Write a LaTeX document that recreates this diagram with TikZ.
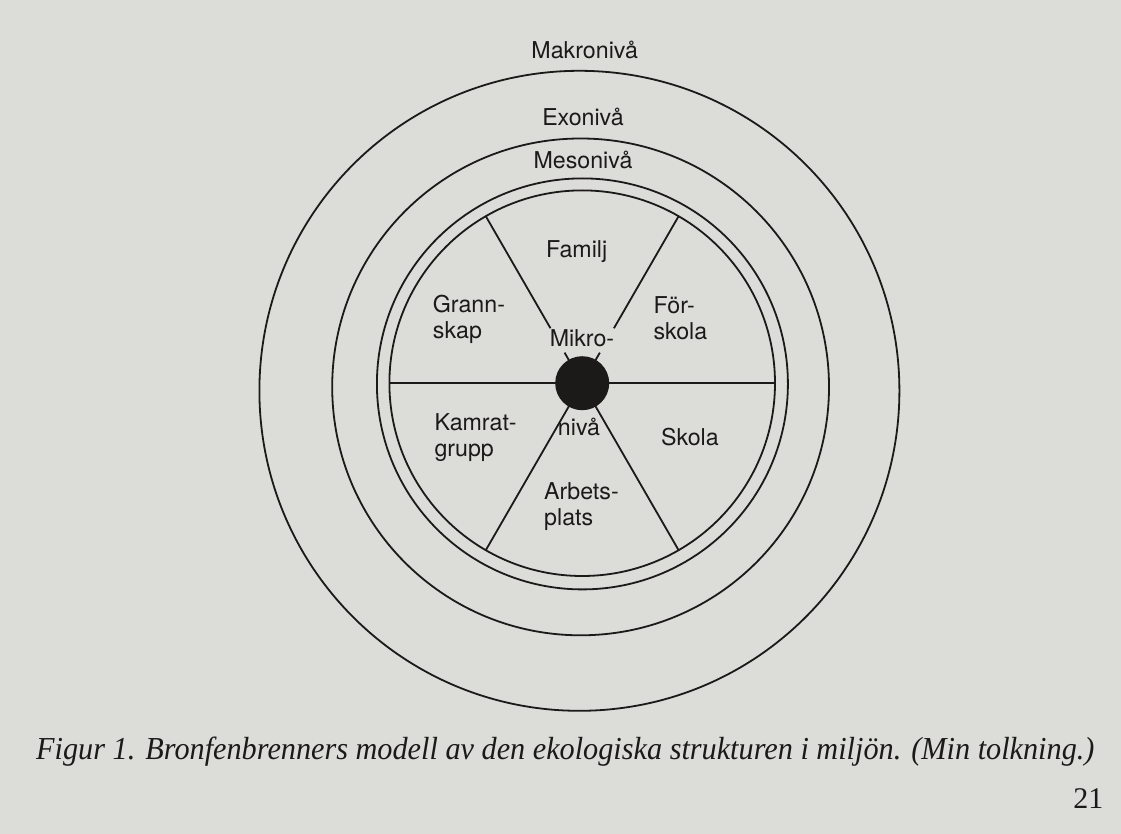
\documentclass[tikz,border=0pt]{standalone}
\usepackage{fontspec}
\setmainfont{TeX Gyre Heros}
\newfontfamily\capfont{Liberation Serif}
\definecolor{paper}{RGB}{220,220,216}
\definecolor{ink}{RGB}{28,25,25}
\begin{document}
\begin{tikzpicture}[x=1pt,y=-1pt,
  lab/.style={font=\fontsize{23.2}{26}\selectfont, text=ink, inner sep=0pt, anchor=base},
  labl/.style={lab, align=left, anchor=base west},
  ring/.style={draw=ink, line width=1.8pt},
  spoke/.style={draw=ink, line width=1.8pt},
  capt/.style={font=\capfont\itshape\fontsize{32}{36}\selectfont, text=ink, inner sep=0pt, anchor=base west},
  pagenum/.style={font=\capfont\fontsize{30}{36}\selectfont, text=ink, inner sep=0pt, anchor=base east}]
\useasboundingbox (0,0) rectangle (1121,834);
\fill[paper] (0,0) rectangle (1121,834);
% centres of the rings
\coordinate (c1) at (579.4,390.8);
\coordinate (c2) at (580.6,386.9);
\coordinate (c3) at (582.4,383.9);
\coordinate (c)  at (582.2,383.2);
% rings
\draw[ring] (c1) circle[radius=320pt];
\draw[ring] (c2) circle[radius=248.4pt];
\draw[ring] (c3) circle[radius=205.5pt];
\draw[ring] (c)  circle[radius=192.8pt];
% spokes (angles in canvas: 60 and 120 point upwards)
\foreach \a in {0,180,240,300}
  \draw[spoke] (c) -- ([shift={(\a:192.8pt)}]c);
\foreach \a in {60,120}{
  \draw[spoke] ([shift={(\a:63.4pt)}]c) -- ([shift={(\a:192.8pt)}]c);
  \draw[spoke] (c) -- ([shift={(\a:35.3pt)}]c);
}
% micro level dot
\fill[ink] (c) circle[radius=27pt];
% level labels
\node[lab] (makro) at (584.7,58.8) {Makronivå};
\node[lab] (exo)   at (583,126) {Exonivå};
\node[lab] (meso)  at (583,169) {Mesonivå};
% sector labels (multi-line nodes: base = baseline of last line)
\node[lab]  (familj) at (576.7,257.3) {Familj};
\node[labl] (grann)  at (432.7,338.5) {Grann-\\skap};
\node[labl] (forsk)  at (653.3,339.3) {För-\\skola};
\node[lab]  (mikro)  at (582,346.7) {Mikro-};
\node[lab]  (niva)   at (579,435) {nivå};
\node[labl] (kamrat) at (434.3,456.7) {Kamrat-\\grupp};
\node[labl] (skola)  at (661,445.7) {Skola};
\node[labl] (arbets) at (544,525) {Arbets-\\plats};
% caption and page number
\node[capt] (caption) at (36,759) {\scalebox{0.945}[1]{Figur 1. Bronfenbrenners modell av den ekologiska strukturen i miljön. (Min tolkning.)}};
\node[pagenum] (page) at (1103.5,808.3) {21};
\end{tikzpicture}
\end{document}
